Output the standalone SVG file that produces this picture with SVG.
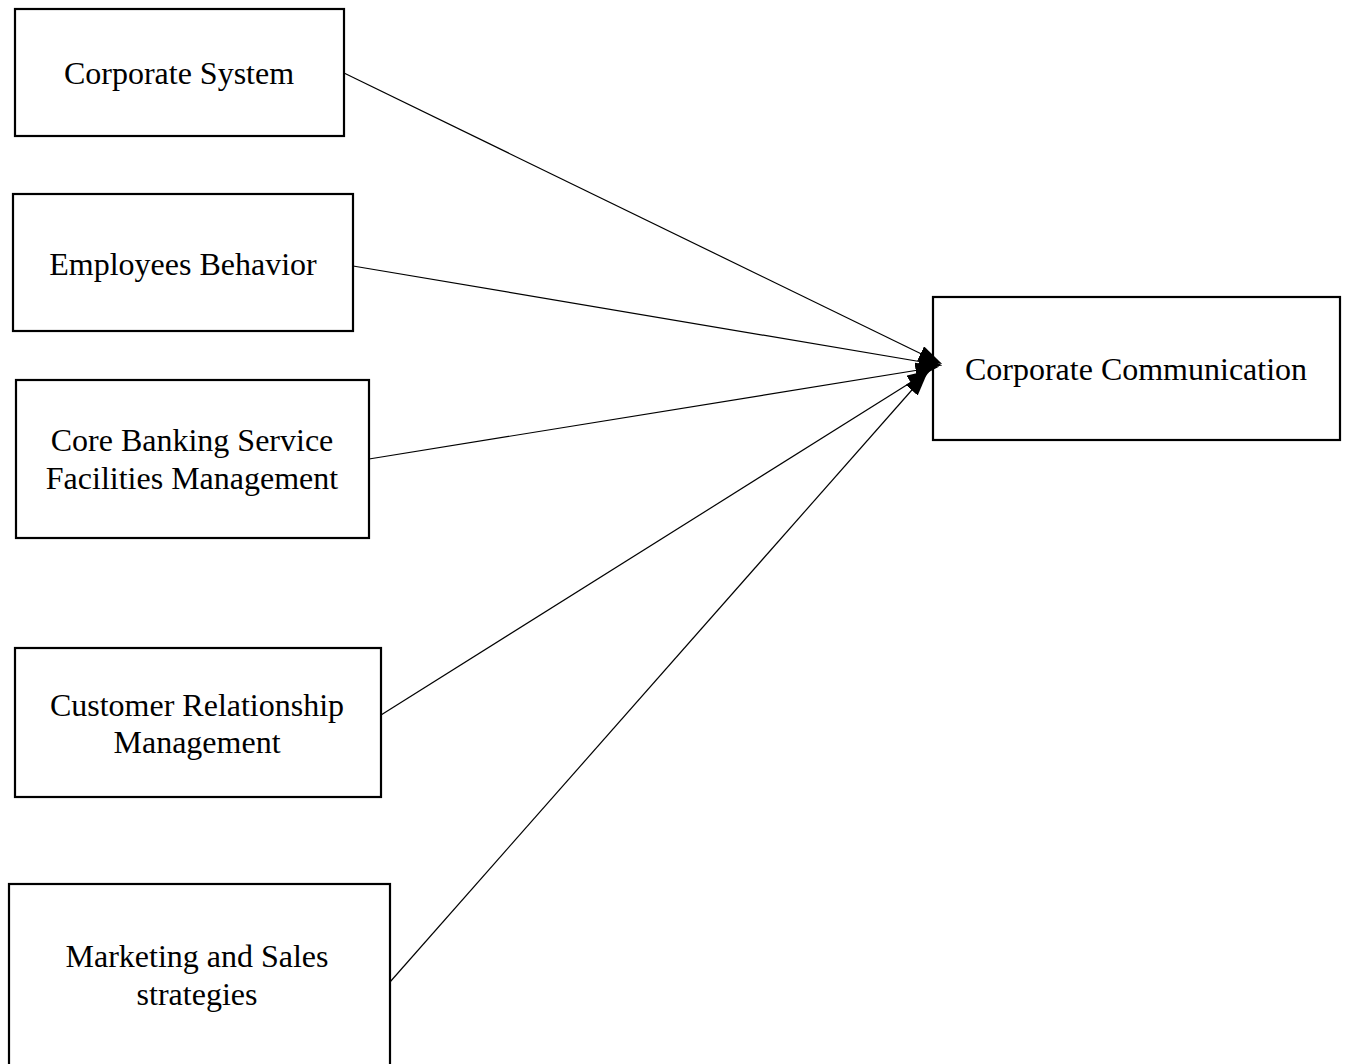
<svg xmlns="http://www.w3.org/2000/svg" width="1346" height="1064" viewBox="0 0 1346 1064">
  <style>
    .box { fill: #fff; stroke: #000; stroke-width: 2.2; }
    .lbl { font-family: "Liberation Serif", "Times New Roman", serif; font-size: 32px; fill: #000; text-anchor: middle; }
    .edge { stroke: #000; stroke-width: 1.2; fill: none; marker-end: url(#arrow); }
  </style>
  <defs>
    <marker id="arrow" viewBox="0 0 10 10" refX="9" refY="5" markerWidth="24" markerHeight="16" markerUnits="userSpaceOnUse" orient="auto" preserveAspectRatio="none">
      <path d="M0,0 L10,5 L0,10 z" fill="#000"/>
    </marker>
  </defs>
  <rect width="1346" height="1064" fill="#fff"/>

  <g id="corporate-system">
    <rect class="box" x="15" y="9" width="329" height="127"/>
    <text class="lbl" x="179" y="84">Corporate System</text>
  </g>
  <g id="employees-behavior">
    <rect class="box" x="13" y="194" width="340" height="137"/>
    <text class="lbl" x="183" y="275">Employees Behavior</text>
  </g>
  <g id="core-banking">
    <rect class="box" x="16" y="380" width="353" height="158"/>
    <text class="lbl" x="192" y="451">Core Banking Service</text>
    <text class="lbl" x="192" y="489">Facilities Management</text>
  </g>
  <g id="customer-relationship">
    <rect class="box" x="15" y="648" width="366" height="149"/>
    <text class="lbl" x="197" y="716">Customer Relationship</text>
    <text class="lbl" x="197" y="753">Management</text>
  </g>
  <g id="marketing-sales">
    <rect class="box" x="9" y="884" width="381" height="190"/>
    <text class="lbl" x="197" y="967">Marketing and Sales</text>
    <text class="lbl" x="197" y="1005">strategies</text>
  </g>
  <g id="corporate-communication">
    <rect class="box" x="933" y="297" width="407" height="143"/>
    <text class="lbl" x="1136" y="380">Corporate Communication</text>
  </g>

  <!-- all arrows converge on the left edge of the target box -->
  <g id="connectors">
    <line class="edge" x1="344" y1="73" x2="940" y2="363"/>
    <line class="edge" x1="353" y1="266" x2="940" y2="365"/>
    <line class="edge" x1="369" y1="459" x2="937" y2="367"/>
    <line class="edge" x1="381" y1="715" x2="929" y2="371"/>
    <line class="edge" x1="390" y1="982" x2="926" y2="374"/>
  </g>
</svg>
